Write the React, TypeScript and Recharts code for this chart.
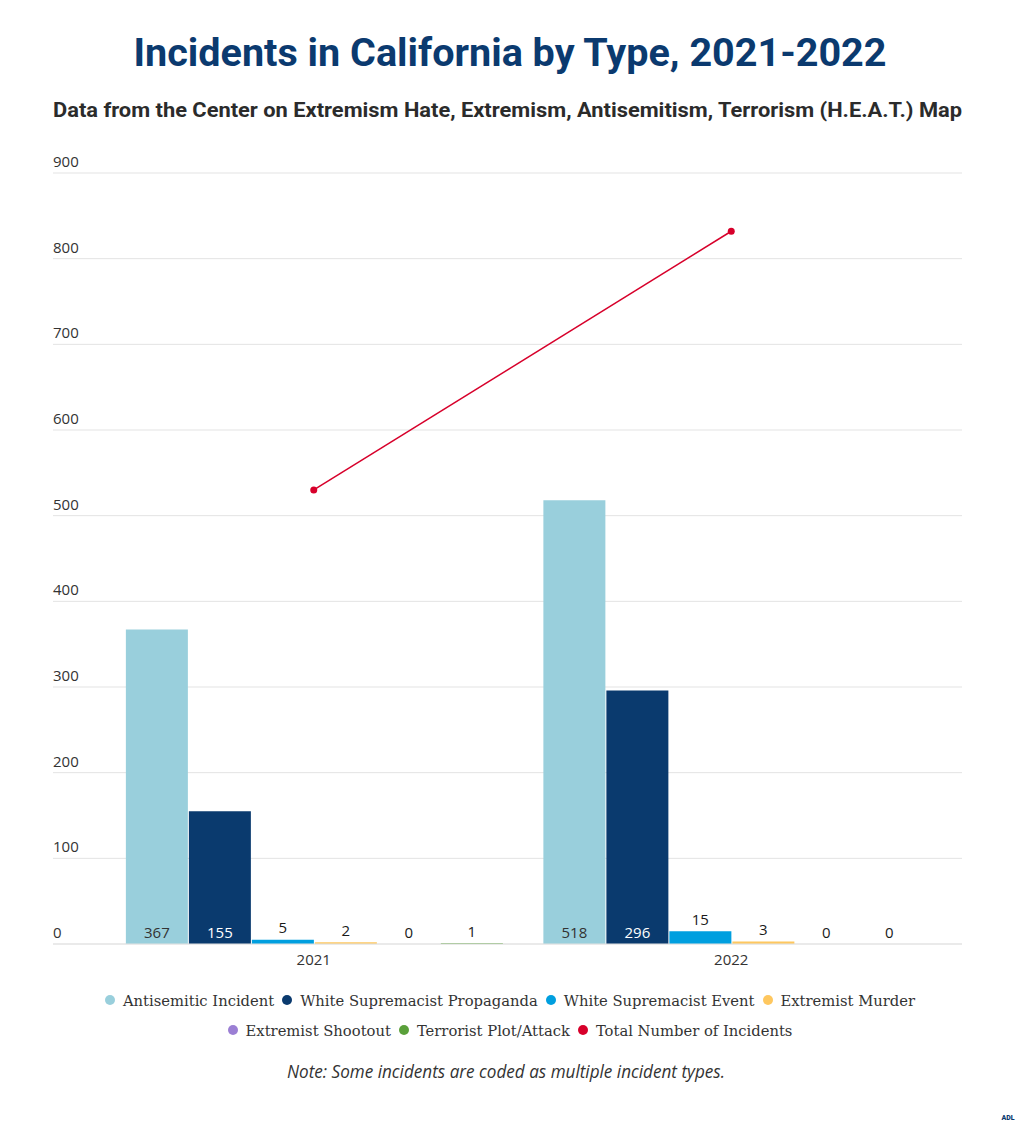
import React from 'react';
import { ComposedChart, Bar, Line, XAxis, YAxis, CartesianGrid, LabelList } from 'recharts';

const years = ['2021', '2022'];
const antisemiticIncident = [367, 518];
const whiteSupremacistPropaganda = [155, 296];
const whiteSupremacistEvent = [5, 15];
const extremistMurder = [2, 3];
const extremistShootout = [0, 0];
const terroristPlotAttack = [1, 0];
const totalIncidents = [530, 832];
const yTicks = [0, 100, 200, 300, 400, 500, 600, 700, 800, 900];

const barSeries = [
  { key: 'antisemitic', name: 'Antisemitic Incident', values: antisemiticIncident, color: '#99cfdc', inside: '#333333' },
  { key: 'wsProp', name: 'White Supremacist Propaganda', values: whiteSupremacistPropaganda, color: '#0a3a6e', inside: '#ffffff' },
  { key: 'wsEvent', name: 'White Supremacist Event', values: whiteSupremacistEvent, color: '#009fdf', inside: '#ffffff' },
  { key: 'murder', name: 'Extremist Murder', values: extremistMurder, color: '#fec75f', inside: '#333333' },
  { key: 'shootout', name: 'Extremist Shootout', values: extremistShootout, color: '#9b7fd4', inside: '#ffffff' },
  { key: 'terror', name: 'Terrorist Plot/Attack', values: terroristPlotAttack, color: '#5aa03a', inside: '#ffffff' },
];
const lineSeries = { key: 'total', name: 'Total Number of Incidents', values: totalIncidents, color: '#d7002b' };

const data = years.map((year, i) => {
  const row: Record<string, any> = { year };
  barSeries.forEach((s) => { row[s.key] = s.values[i]; });
  row[lineSeries.key] = lineSeries.values[i];
  return row;
});

const legendRows = [
  [barSeries[0], barSeries[1], barSeries[2], barSeries[3]],
  [barSeries[4], barSeries[5], lineSeries],
];

const W = 1020;
const H = 1125;
const PLOT_LEFT = 53;
const AXIS_FONT = "'Open Sans', sans-serif";

const YTick = (props: any) => {
  const { y, payload } = props;
  return (
    <text x={PLOT_LEFT} y={y - 6} textAnchor="start" fontFamily={AXIS_FONT} fontSize={15} fill="#333333">
      {payload.value}
    </text>
  );
};

const XTick = (props: any) => {
  const { x, y, payload } = props;
  return (
    <text x={x} y={y + 13} textAnchor="middle" fontFamily={AXIS_FONT} fontSize={15} fill="#333333">
      {payload.value}
    </text>
  );
};

const makeLabel = (insideColor: string) => (props: any) => {
  const vb = props.viewBox || {};
  const x = props.x ?? vb.x;
  const y = props.y ?? vb.y;
  const width = props.width ?? vb.width;
  const rawH = props.height ?? vb.height ?? 0;
  const height = rawH < 0.05 ? 0 : rawH;
  const top = rawH < 0.05 ? y + rawH : y;
  const value = props.value;
  const cx = x + width / 2;
  const bottom = top + height;
  const fitsInside = height >= 26;
  const ty = fitsInside ? bottom - 6.5 : top - 6.5;
  return (
    <text x={cx} y={ty} textAnchor="middle" fontFamily={AXIS_FONT} fontSize={15} fill={fitsInside ? insideColor : '#1a1a1a'}>
      {value}
    </text>
  );
};

export default function App() {
  return (
    <div style={{ position: 'absolute', left: 0, top: 0, width: W, height: H, background: '#ffffff', overflow: 'hidden' }}>
      <svg width={W} height={140} style={{ position: 'absolute', left: 0, top: 0 }}>
        <text x={510} y={66} textAnchor="middle" fontFamily="Roboto, sans-serif" fontWeight={700} fontSize={38} fill="#0b3a6f" textLength={753} lengthAdjust="spacingAndGlyphs">
          Incidents in California by Type, 2021-2022
        </text>
        <text x={53} y={117} textAnchor="start" fontFamily="Roboto, sans-serif" fontWeight={700} fontSize={20} fill="#2b2b2b" textLength={909} lengthAdjust="spacingAndGlyphs">
          Data from the Center on Extremism Hate, Extremism, Antisemitism, Terrorism (H.E.A.T.) Map
        </text>
      </svg>
      <div style={{ position: 'absolute', left: 0, top: 0 }}>
        <ComposedChart
          width={W}
          height={980}
          data={data}
          margin={{ top: 173, right: 58, left: 0, bottom: 0 }}
          barCategoryGap="5%"
          barGap={1}
        >
          <CartesianGrid vertical={false} stroke="#e3e3e3" strokeWidth={1} />
          <XAxis
            dataKey="year"
            height={36}
            padding={{ left: 52, right: 22 }}
            axisLine={{ stroke: '#e3e3e3', strokeWidth: 1 }}
            tickLine={false}
            tick={<XTick />}
            interval={0}
          />
          <YAxis
            width={PLOT_LEFT}
            domain={[0, 900]}
            ticks={yTicks}
            axisLine={false}
            tickLine={false}
            tick={<YTick />}
            interval={0}
          />
          {barSeries.map((s) => (
            <Bar key={s.key} dataKey={s.key} name={s.name} fill={s.color} minPointSize={0.01} isAnimationActive={false}>
              <LabelList dataKey={s.key} content={makeLabel(s.inside)} />
            </Bar>
          ))}
          <Line
            dataKey={lineSeries.key}
            name={lineSeries.name}
            stroke={lineSeries.color}
            strokeWidth={1.5}
            dot={{ r: 3.5, fill: lineSeries.color, stroke: lineSeries.color, strokeWidth: 0 }}
            activeDot={false}
            isAnimationActive={false}
          />
        </ComposedChart>
      </div>
      {legendRows.map((row, ri) => (
        <div
          key={ri}
          style={{
            position: 'absolute',
            left: 0,
            top: 990 + ri * 30,
            width: W,
            height: 20,
            display: 'flex',
            justifyContent: 'center',
            alignItems: 'center',
            gap: 8,
            fontFamily: "'DejaVu Serif', serif",
            fontSize: 14.75,
            color: '#333333',
            whiteSpace: 'nowrap',
          }}
        >
          {row.map((s) => (
            <div key={s.key} style={{ display: 'flex', alignItems: 'center' }}>
              <span style={{ width: 10, height: 10, borderRadius: 5, background: s.color, marginRight: 8, display: 'inline-block' }} />
              <span>{s.name}</span>
            </div>
          ))}
        </div>
      ))}
      <svg width={W} height={H - 1040} style={{ position: 'absolute', left: 0, top: 1040 }}>
        <text x={506} y={38} textAnchor="middle" fontFamily="'Open Sans', sans-serif" fontStyle="italic" fontSize={19} fill="#333333" textLength={438} lengthAdjust="spacingAndGlyphs">
          Note: Some incidents are coded as multiple incident types.
        </text>
        <text x={1008} y={80} textAnchor="middle" fontFamily="Roboto, sans-serif" fontWeight={900} fontSize={7} fill="#0b3a6f">
          ADL
        </text>
      </svg>
    </div>
  );
}
